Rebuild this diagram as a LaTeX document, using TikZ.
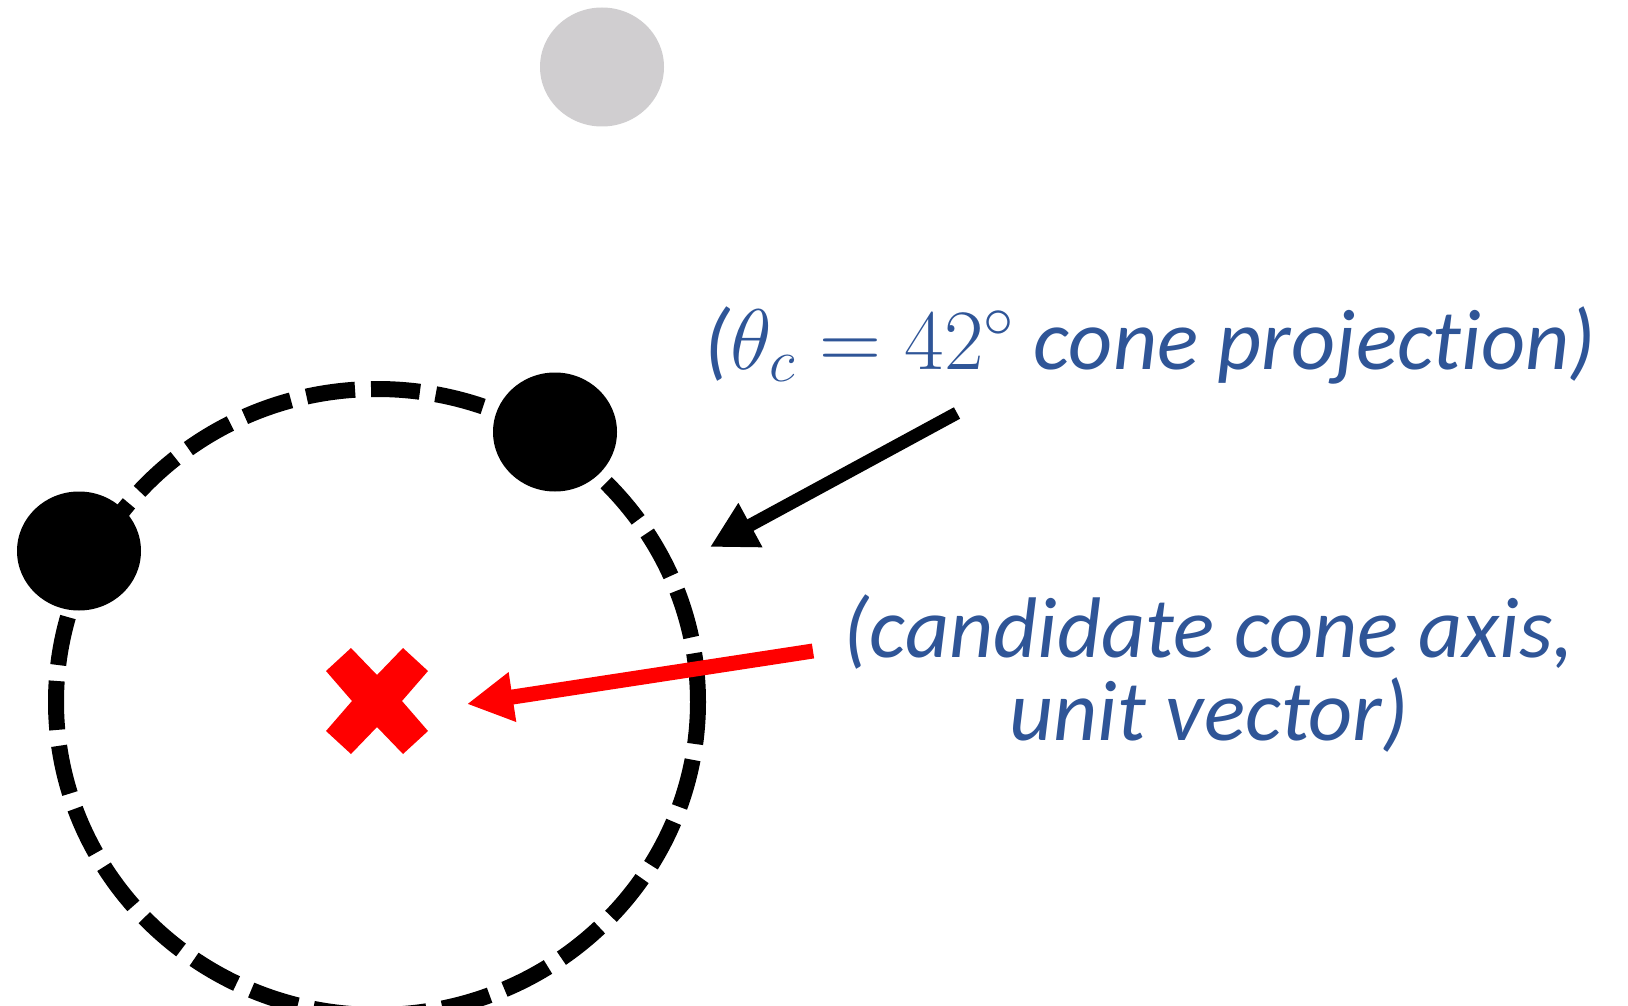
\RequirePackage{fix-cm}
\documentclass[tikz,border=0pt]{standalone}
\usepackage{fontspec}
\setmainfont{Carlito}[Ligatures=NoCommon]
\usepackage{tikz}
\usetikzlibrary{arrows.meta, positioning, calc, shapes.geometric}
\definecolor{labelblue}{RGB}{47, 85, 151}
\definecolor{hitgray}{RGB}{208, 206, 208}
\tikzset{
  hit/.style={ellipse, fill=black, minimum width=124pt, minimum height=119pt, inner sep=0pt},
  ring/.style={ellipse, draw, line width=16pt, dash pattern=on 49pt off 16pt, minimum width=642pt, minimum height=626pt, inner sep=0pt},
  callout/.style={font=\fontsize{86}{83}\selectfont\itshape, text=labelblue, inner sep=0pt, align=center}
}

\begin{document}
\begin{tikzpicture}[x=1pt, y=-1pt, >={Triangle[length=46pt, width=47pt]}]
    \useasboundingbox (0,0) rectangle (1628,1006);
    \clip (0,0) rectangle (1628,1006);

    % Cone ring and hits
    \node[ring] (cone) at (377,702) {};
    \node[hit, fill=hitgray] (far) at (602,67) {};
    \node[hit] (hitA) at (79,551) {};
    \node[hit] (hitB) at (555,432) {};

    % Candidate axis
    \coordinate (axis) at (377,701);
    \fill[red] ($(axis)+(-51,-30)$) -- ++(25,-23) -- ++(26,27) -- ++(26,-27) -- ++(25,23)
        -- ++(-26,30) -- ++(26,30) -- ++(-25,23) -- ++(-26,-27) -- ++(-26,27)
        -- ++(-25,-23) -- ++(26,-30) -- cycle;

    % Labels
    \node[callout, anchor=base] (projlabel) at (1150,369) {($\theta_c = 42^\circ$ cone projection)};
    \node[callout, anchor=base] (axislabel) at (1209,740) {(candidate cone axis,\\unit vector)};

    % Arrows
    \coordinate (projtail) at (957,413);
    \coordinate (projtip) at (710,547);
    \coordinate (axistail) at (813,651);
    \coordinate (axistip) at (467,704);
    \draw[->, line width=13pt] (projtail) -- (projtip);
    \draw[->, red, line width=15pt] (axistail) -- (axistip);
\end{tikzpicture}
\end{document}
